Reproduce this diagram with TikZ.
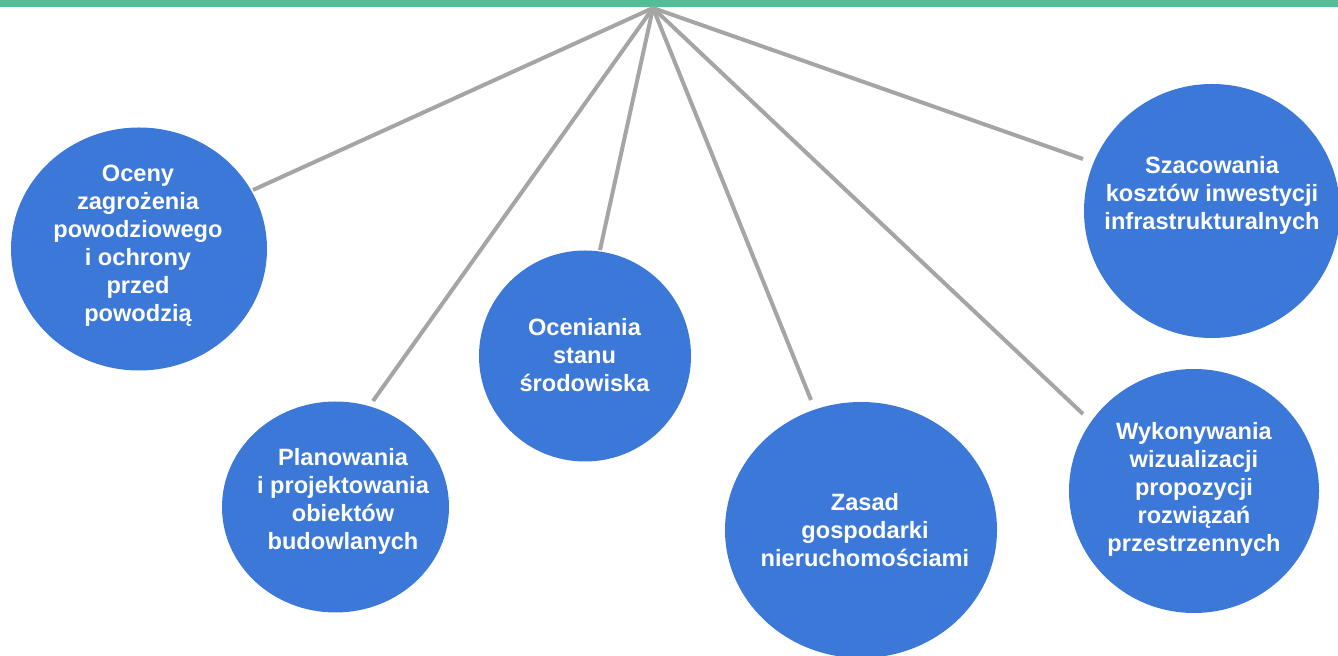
\documentclass[tikz,border=0pt]{standalone}
\usepackage{fontspec}
\setmainfont{Liberation Sans}
\usetikzlibrary{shapes.geometric}
\definecolor{niebieski}{HTML}{3C78D8}
\definecolor{zielony}{HTML}{52BD97}
\definecolor{szary}{HTML}{A5A5A5}
\begin{document}
\begin{tikzpicture}[x=0.5pt,y=-0.5pt,
        kolo/.style={ellipse,fill=niebieski,inner sep=0pt},
        opis/.style={text=white,font=\bfseries\fontsize{11.8}{14}\selectfont,align=center,inner sep=0pt},
        linia/.style={draw=szary,line width=2pt}]
        \useasboundingbox (0,0) rectangle (1338,656);
        \fill [zielony] (0,0) rectangle (1338,7);
        % kola
        \node [kolo,minimum width=128pt,minimum height=121.5pt] (powodz) at (139,249) {};
        \node [kolo,minimum width=113.5pt,minimum height=105.5pt] (budowle) at (335.5,507) {};
        \node [kolo,minimum width=106pt,minimum height=105.5pt] (srodowisko) at (585,356) {};
        \node [kolo,minimum width=136pt,minimum height=128pt] (nieruchomosci) at (861,530) {};
        \node [kolo,minimum width=125pt,minimum height=122pt] (wizualizacje) at (1194,491) {};
        \node [kolo,minimum width=128pt,minimum height=127pt] (koszty) at (1212,211) {};
        % napisy
        \node [opis] (powodzT) at (138,246) {Oceny\\zagrożenia\\powodziowego\\i ochrony\\przed\\powodzią};
        \node [opis] (budowleT) at (343,501) {Planowania\\i projektowania\\obiektów\\budowlanych};
        \node [opis] (srodowiskoT) at (584.5,355) {Oceniania\\stanu\\środowiska};
        \node [opis] (nieruchomosciT) at (865,530) {Zasad\\gospodarki\\nieruchomościami};
        \node [opis] (wizualizacjeT) at (1194,489) {Wykonywania\\wizualizacji\\propozycji\\rozwiązań\\przestrzennych};
        \node [opis] (kosztyT) at (1212,195) {Szacowania\\kosztów inwestycji\\infrastrukturalnych};
        % linie
        \coordinate (srodek) at (653,8);
        \coordinate (powodzK) at (253,190);
        \coordinate (budowleK) at (373,401);
        \coordinate (srodowiskoK) at (600,250);
        \coordinate (nieruchomosciK) at (811,400);
        \coordinate (wizualizacjeK) at (1083,414);
        \coordinate (kosztyK) at (1083,159);
        \draw [linia] (srodek)-- (powodzK);
        \draw [linia] (srodek)-- (budowleK);
        \draw [linia] (srodek)-- (srodowiskoK);
        \draw [linia] (srodek)-- (nieruchomosciK);
        \draw [linia] (srodek)-- (wizualizacjeK);
        \draw [linia] (srodek)-- (kosztyK);
\end{tikzpicture}
\end{document}
